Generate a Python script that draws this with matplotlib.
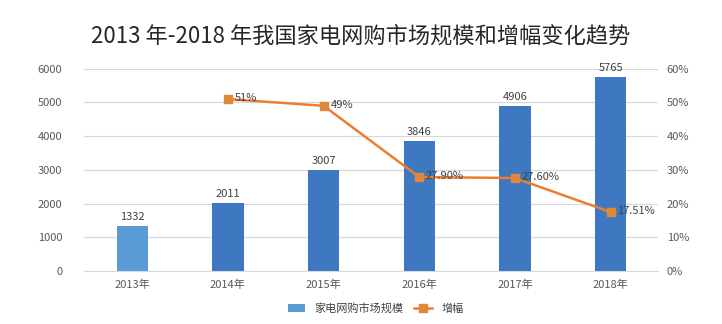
import numpy as np
import matplotlib.pyplot as plt

plt.rcParams['font.family'] = ['Noto Sans CJK SC', 'DejaVu Sans']

years = ['2013年', '2014年', '2015年', '2016年', '2017年', '2018年']
market = [1332, 2011, 3007, 3846, 4906, 5765]
growth_years = ['2014年', '2015年', '2016年', '2017年', '2018年']
growth = [51, 49, 27.90, 27.60, 17.51]
growth_labels = ['51%', '49%', '27.90%', '27.60%', '17.51%']

fig = plt.figure(figsize=(7.22, 3.24), dpi=100)
ax = fig.add_axes([0.117, 0.163, 0.795, 0.625])
ax2 = ax.twinx()

x = np.arange(len(years))
colors = ['#5b9bd5'] + ['#3d78c0'] * (len(years) - 1)
bars = ax.bar(x, market, width=0.33, color=colors, zorder=2, label='家电网购市场规模')
for xi, v in zip(x, market):
    ax.text(xi, v + 120, str(v), ha='center', va='bottom', fontsize=8, color='#404040')

gx = [years.index(y) for y in growth_years]
line, = ax2.plot(gx, growth, color='#ed7d31', lw=1.8, marker='s', ms=5.5,
                 markerfacecolor='#e0883a', markeredgecolor='#e0883a', label='增幅', zorder=3)
for xi, v, s in zip(gx, growth, growth_labels):
    ax2.text(xi + 0.07, v + 0.3, s, ha='left', va='center', fontsize=8, color='#404040')

ax.set_xlim(-0.5, len(years) - 0.5)
ax.set_ylim(0, 6000)
ax.set_yticks(range(0, 6001, 1000))
ax2.set_ylim(0, 60)
ax2.set_yticks(range(0, 61, 10))
ax2.set_yticklabels([f'{t}%' for t in range(0, 61, 10)])

ax.set_xticks(x)
ax.set_xticklabels(years)
ax.yaxis.grid(True, color='#d9d9d9', lw=0.9, zorder=0)
ax.set_axisbelow(True)
for a in (ax, ax2):
    for s in a.spines.values():
        s.set_visible(False)
    a.tick_params(length=0, labelsize=8, labelcolor='#595959')
ax.spines['bottom'].set_visible(True)
ax.spines['bottom'].set_color('#d9d9d9')
ax.tick_params(axis='y', pad=16)
ax2.tick_params(axis='y', pad=6)
ax.tick_params(axis='x', pad=6)

fig.suptitle('2013 年-2018 年我国家电网购市场规模和增幅变化趋势', fontsize=16, color='#262626', y=0.925)

fig.legend([bars, line], ['家电网购市场规模', '增幅'], loc='lower center', ncol=2,
           bbox_to_anchor=(0.52, 0.0), frameon=False, fontsize=8, handlelength=1.6,
           handleheight=0.7, columnspacing=1.0, labelcolor='#404040')

fig.savefig('out.png', dpi=100)
